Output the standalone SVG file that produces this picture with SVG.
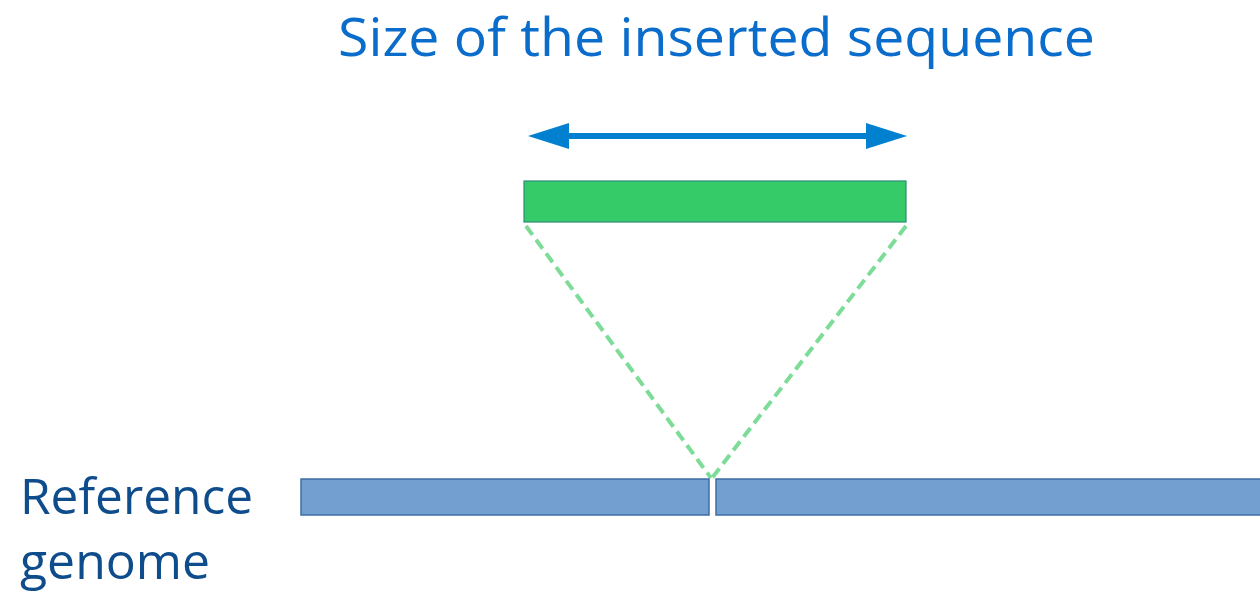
<svg xmlns="http://www.w3.org/2000/svg" width="1260" height="594" viewBox="0 0 1260 594">
  <style>
    .title { font-family: "Open Sans", "Noto Sans", sans-serif; font-size: 53px; fill: #0A6CCB; }
    .label { font-family: "Open Sans", "Noto Sans", sans-serif; font-size: 49px; fill: #0E4C8C; }
    .genome { fill: #739FD0; stroke: #3E6DA5; stroke-width: 1.5; }
    .insert { fill: #35CB68; stroke: #2C8C78; stroke-width: 1.2; }
    .guide { fill: none; stroke: #7DDC98; stroke-width: 4; stroke-dasharray: 11 6; }
    .span { stroke: #0280D0; stroke-width: 6; fill: none; }
  </style>

  <rect width="1260" height="594" fill="#FFFFFF"/>

  <g id="title">
    <text class="title" x="338" y="56" textLength="757" lengthAdjust="spacingAndGlyphs">Size of the inserted sequence</text>
  </g>

  <g id="size-arrow">
    <line class="span" x1="566" y1="136" x2="868" y2="136"/>
    <polygon points="528,136 569,123 569,149" fill="#0280D0"/>
    <polygon points="907,136 866,123 866,149" fill="#0280D0"/>
  </g>

  <g id="inserted-sequence">
    <rect class="insert" x="524" y="181" width="382" height="41"/>
  </g>

  <g id="connectors">
    <path class="guide" d="M526,226 L711,478"/>
    <path class="guide" d="M906,226 L712,478"/>
  </g>

  <g id="reference-genome">
    <rect class="genome" x="301" y="479" width="408" height="36"/>
    <rect class="genome" x="716" y="479" width="550" height="36"/>
  </g>

  <g id="reference-label">
    <text class="label" x="20" y="514" textLength="233" lengthAdjust="spacingAndGlyphs">Reference</text>
    <text class="label" x="20" y="579" textLength="190" lengthAdjust="spacingAndGlyphs">genome</text>
  </g>
</svg>
